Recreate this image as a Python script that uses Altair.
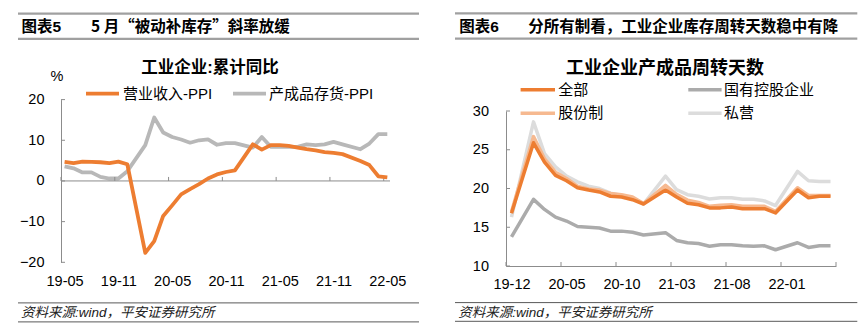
import json
import altair as alt
import pandas as pd

FONT = "Liberation Sans, Noto Sans CJK SC, sans-serif"
FONT_CJK = "Noto Sans CJK SC, Liberation Sans, sans-serif"

# ---------------- data: left panel (工业企业:累计同比) ----------------
left_title = "工业企业:累计同比"
left_head_no = "图表5"
left_head = "5 月“被动补库存”斜率放缓"
left_unit = "%"
left_series = ["营业收入-PPI", "产成品存货-PPI"]
left_tick_labels = ["19-05", "19-11", "20-05", "20-11", "21-05", "21-11", "22-05"]
# month index from 2019-05 (January values not published)
left_k = [0, 1, 2, 3, 4, 5, 6, 7, 9, 10, 11, 12, 13, 14, 15, 16, 17, 18, 19,
          21, 22, 23, 24, 25, 26, 27, 28, 29, 30, 31, 33, 34, 35, 36]
rev_ppi = [4.7, 4.4, 4.75, 4.7, 4.6, 4.4, 4.75, 4.1, -17.7, -14.8, -8.6, -6.0, -3.3,
           -2.0, -0.8, 0.6, 1.6, 2.2, 2.6, 9.0, 7.7, 8.8, 8.8, 8.6, 8.2, 7.8, 7.5,
           7.1, 6.9, 6.6, 4.9, 3.9, 1.15, 0.9]
inv_ppi = [3.6, 3.1, 2.1, 2.1, 1.0, 0.6, 0.6, 2.4, 8.8, 15.6, 11.9, 10.8, 10.2, 9.4,
           10.0, 10.2, 8.9, 9.3, 9.3, 8.2, 10.8, 8.4, 8.4, 8.4, 8.4, 9.0, 8.8, 9.0,
           9.6, 9.0, 7.8, 9.2, 11.5, 11.5]
left_y_ticks = [-20, -10, 0, 10, 20]

# ---------------- data: right panel (产成品周转天数) ----------------
right_title = "工业企业产成品周转天数"
right_head_no = "图表6"
right_head = "分所有制看，工业企业库存周转天数稳中有降"
right_series = ["全部", "国有控股企业", "股份制", "私营"]
right_tick_labels = ["19-12", "20-05", "20-10", "21-03", "21-08", "22-01"]
# month index from 2019-12 (January values not published)
right_k = [0, 2, 3, 4, 5, 6, 7, 8, 9, 10, 11, 12, 14, 15, 16, 17, 18, 19, 20, 21,
           22, 23, 24, 26, 27, 28, 29]
total = [16.8, 25.9, 23.4, 21.7, 21.0, 20.1, 19.8, 19.55, 19.0, 18.9, 18.55, 18.0,
         19.8, 18.9, 18.1, 17.9, 17.5, 17.5, 17.6, 17.4, 17.4, 17.4, 16.85, 19.8,
         18.8, 19.0, 19.0]
state = [13.75, 18.6, 17.3, 16.3, 15.8, 15.1, 15.0, 14.9, 14.5, 14.5, 14.35, 14.0,
         14.3, 13.3, 13.0, 12.9, 12.55, 12.75, 12.75, 12.6, 12.55, 12.6, 12.1, 13.0,
         12.4, 12.6, 12.6]
joint = [17.0, 26.7, 23.85, 22.1, 21.3, 20.3, 19.95, 19.8, 19.35, 19.2, 18.9, 18.05,
         20.4, 19.25, 18.5, 18.2, 17.7, 17.85, 17.9, 17.7, 17.7, 17.7, 17.05, 20.1,
         19.1, 19.1, 19.1]
private = [16.3, 28.6, 24.5, 22.8, 21.6, 20.85, 20.3, 20.0, 19.4, 19.1, 18.8, 18.0,
           21.6, 19.85, 19.2, 19.0, 18.65, 18.8, 18.8, 18.6, 18.6, 18.4, 17.8, 22.2,
           21.0, 20.9, 20.9]
right_y_ticks = [10, 15, 20, 25, 30]

source_note = "资料来源:wind，平安证券研究所"

# ---------------- styling ----------------
ORANGE = "#ED7D31"
GRAY_L = "#B8B8B8"
C_STATE = "#ABABAB"
C_JOINT = "#F6B990"
C_PRIV = "#DCDCDC"
AXIS = "#8C8C8C"
HEAD_RULE = "#A0A0A0"
FOOT_RULE = "#595959"

one = pd.DataFrame({"a": [0]})


def txt(s, x, y, size, bold=False, italic=False, align="left", color="#000000", font=FONT):
    return alt.Chart(pd.DataFrame({"t": [s]})).mark_text(
        align=align, baseline="middle", fontSize=size, font=font,
        fontWeight="bold" if bold else "normal",
        fontStyle="italic" if italic else "normal", color=color,
    ).encode(x=alt.value(x), y=alt.value(y), text="t:N")


def hrule(x1, x2, y, color, w):
    return alt.Chart(one).mark_rule(color=color, strokeWidth=w).encode(
        x=alt.value(x1), x2=alt.value(x2), y=alt.value(y))


# Both panels share the same group origin (top of the right plot area).
# The left plot area starts DY pixels higher than that origin.
DY = -11.4

# ================= LEFT =================
LW = 329
LH = 151.3              # from shared origin down to the left plot bottom
ldf = pd.DataFrame({"k": left_k, "rev": rev_ppi, "inv": inv_ppi})
lx = alt.Scale(domain=[-0.4, 36.3], nice=False, zero=False)
ly = alt.Scale(domain=[-20, 20], nice=False, range=[LH, DY])
l_label_expr = json.dumps(left_tick_labels) + "[round(datum.value/6)]"

l_xaxis = alt.Axis(values=[0, 6, 12, 18, 24, 30, 36], labelExpr=l_label_expr, domain=False,
                   ticks=False, grid=False, labelPadding=12, labelFontSize=14.5,
                   labelFont=FONT, labelColor="#000", title=None, labelFlush=False,
                   labelOverlap=False)
l_yaxis = alt.Axis(values=left_y_ticks, domain=True, domainColor=AXIS, ticks=False,
                   grid=False, labelPadding=17, labelFontSize=14.5, labelFont=FONT,
                   labelColor="#000", title=None, labelOverlap=False, labelFlush=False)

l_inv = alt.Chart(ldf).mark_line(color=GRAY_L, strokeWidth=3.8, strokeJoin="round").encode(
    x=alt.X("k:Q", scale=lx, axis=l_xaxis), y=alt.Y("inv:Q", scale=ly, axis=l_yaxis))
l_rev = alt.Chart(ldf).mark_line(color=ORANGE, strokeWidth=3.8, strokeJoin="round").encode(
    x=alt.X("k:Q", scale=lx, axis=l_xaxis), y=alt.Y("rev:Q", scale=ly, axis=l_yaxis))

l_zero = alt.Chart(one).mark_rule(color=AXIS, strokeWidth=1).encode(
    y=alt.Y(datum=0, scale=ly, axis=l_yaxis), x=alt.value(0), x2=alt.value(LW))
l_xt = alt.Chart(pd.DataFrame({"t": [m * 6 - 0.4 for m in range(7)]})).mark_rule(
    color=AXIS, strokeWidth=1, y2Offset=-4).encode(
    x=alt.X("t:Q", scale=lx, axis=l_xaxis), y=alt.Y(datum=0, scale=ly, axis=l_yaxis),
    y2=alt.datum(0))
l_yt = alt.Chart(pd.DataFrame({"v": left_y_ticks})).mark_rule(color=AXIS, strokeWidth=1).encode(
    y=alt.Y("v:Q", scale=ly, axis=l_yaxis), x=alt.value(0), x2=alt.value(4))

left = alt.layer(
    hrule(-43, 358, -86 + DY, HEAD_RULE, 2.2),
    hrule(-43, 358, -60.7 + DY, HEAD_RULE, 2.2),
    txt(left_head_no, -39.5, -72.7 + DY, 15.5, bold=True),
    txt(left_head, 30, -72.7 + DY, 15.5, bold=True, font=FONT_CJK),
    txt(left_title, 149, -32 + DY, 16.5, bold=True, align="center"),
    txt(left_unit, -4, -22.5 + DY, 14.5, align="center"),
    hrule(25, 58, -6 + DY, ORANGE, 3.8),
    txt(left_series[0], 62, -6 + DY, 15),
    hrule(172, 205, -6 + DY, GRAY_L, 3.8),
    txt(left_series[1], 208, -6 + DY, 15),
    l_inv, l_zero, l_xt, l_yt, l_rev,
    hrule(-43, 358, 203.3 + DY, FOOT_RULE, 1),
    txt(source_note, -40, 213.7 + DY, 13.5, italic=True, color="#222"),
    hrule(-43, 358, 222.3 + DY, FOOT_RULE, 1),
).properties(width=LW, height=LH)

# ================= RIGHT =================
RW, RH = 330, 155
rdf = pd.DataFrame({"k": right_k, "total": total, "state": state,
                    "joint": joint, "private": private})
rx = alt.Scale(domain=[-0.5, 29.5], nice=False, zero=False)
ry = alt.Scale(domain=[10, 30], nice=False, zero=False)
r_label_expr = json.dumps(right_tick_labels) + "[round(datum.value/5)]"
r_xaxis = alt.Axis(values=[0, 5, 10, 15, 20, 25], labelExpr=r_label_expr, domain=True,
                   domainColor=AXIS, ticks=False, grid=False, labelPadding=11,
                   labelFontSize=14.5, labelFont=FONT, labelColor="#000", title=None,
                   labelFlush=False, labelOverlap=False)
r_yaxis = alt.Axis(values=right_y_ticks, domain=True, domainColor=AXIS, ticks=False,
                   grid=False, labelPadding=17.5, labelFontSize=14.5, labelFont=FONT,
                   labelColor="#000", title=None, labelOverlap=False, labelFlush=False)


def rline(field, color):
    return alt.Chart(rdf).mark_line(color=color, strokeWidth=3.5, strokeJoin="round").encode(
        x=alt.X("k:Q", scale=rx, axis=r_xaxis), y=alt.Y(field + ":Q", scale=ry, axis=r_yaxis))


r_xt = alt.Chart(pd.DataFrame({"t": [m * 5 - 0.5 for m in range(7)]})).mark_rule(
    color=AXIS, strokeWidth=1).encode(x=alt.X("t:Q", scale=rx, axis=r_xaxis),
                                      y=alt.value(RH), y2=alt.value(RH - 4))
r_yt = alt.Chart(pd.DataFrame({"v": right_y_ticks})).mark_rule(color=AXIS, strokeWidth=1).encode(
    y=alt.Y("v:Q", scale=ry, axis=r_yaxis), x=alt.value(0), x2=alt.value(4))

right = alt.layer(
    hrule(-51, 351.3, -97.7, HEAD_RULE, 2.2),
    hrule(-51, 351.3, -72.4, HEAD_RULE, 2.2),
    txt(right_head_no, -46.7, -84.4, 15.5, bold=True),
    txt(right_head, 22.3, -84.4, 15.5, bold=True, font=FONT_CJK),
    txt(right_title, 159, -41.7, 18, bold=True, align="center"),
    hrule(14.6, 49, -21.3, ORANGE, 3.5),
    txt(right_series[0], 52.3, -21.3, 15),
    hrule(182.3, 215.6, -21.3, C_STATE, 3.5),
    txt(right_series[1], 218, -21.3, 15),
    hrule(14.6, 49, 2.3, C_JOINT, 3.5),
    txt(right_series[2], 52.3, 2.3, 15),
    hrule(182.3, 215.6, 2.3, C_PRIV, 3.5),
    txt(right_series[3], 218, 2.3, 15),
    rline("private", C_PRIV),
    r_xt, r_yt,
    rline("state", C_STATE),
    rline("joint", C_JOINT),
    rline("total", ORANGE),
    hrule(-51, 351.3, 191.6, FOOT_RULE, 1),
    txt(source_note, -47.7, 202, 13.5, italic=True, color="#222"),
    hrule(-51, 351.3, 210.3, FOOT_RULE, 1),
).properties(width=RW, height=RH)

chart = alt.hconcat(left, right, spacing=32).properties(
    padding={"left": 16, "top": 12, "right": 0, "bottom": 0},
    background="white",
).configure_view(stroke=None).configure_axis(labelOverlap=False)

chart.save("out.html", embed_options={"renderer": "svg", "actions": False})
